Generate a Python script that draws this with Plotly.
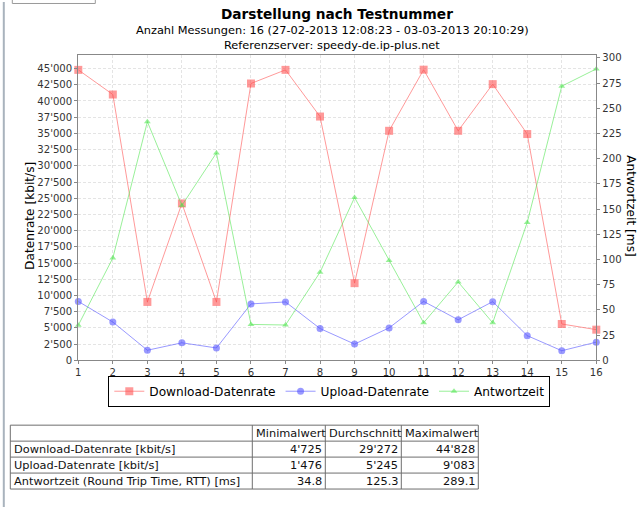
import plotly.graph_objects as go

# ---------------- data ----------------
tests = list(range(1, 17))
download = [44800, 41000, 9000, 24200, 9000, 42700, 44800, 37600, 11900,
            35400, 44828, 35400, 42600, 34900, 5600, 4725]
upload = [9083, 5900, 1550, 2700, 1900, 8700, 9000, 4900, 2500,
          5000, 9083, 6250, 9050, 3800, 1476, 2800]
rtt = [34.8, 101.5, 236.7, 153.6, 205.7, 35.6, 35.0, 87.3, 161.5,
       98.9, 37.2, 77.7, 37.2, 136.8, 272.0, 289.1]

series_names = ["Download-Datenrate", "Upload-Datenrate", "Antwortzeit"]

title = "Darstellung nach Testnummer"
subtitle1 = "Anzahl Messungen: 16 (27-02-2013 12:08:23 - 03-03-2013 20:10:29)"
subtitle2 = "Referenzserver: speedy-de.ip-plus.net"
ylabel_left = "Datenrate [kbit/s]"
ylabel_right = "Antwortzeit [ms]"

left_ticks = list(range(0, 45001, 2500))
right_ticks = list(range(0, 301, 25))

table_header = ["", "Minimalwert", "Durchschnitt", "Maximalwert"]
table_rows = ["Download-Datenrate [kbit/s]", "Upload-Datenrate [kbit/s]",
              "Antwortzeit (Round Trip Time, RTT) [ms]"]
table_min = ["4'725", "1'476", "34.8"]
table_avg = ["29'272", "5'245", "125.3"]
table_max = ["44'828", "9'083", "289.1"]

# ---------------- layout helpers (reference pixels -> paper) ----------------
RW, RH = 642, 507          # reference canvas
K = 1 / 0.986              # compensation for the capture scale
DX = 1.7                   # small horizontal capture offset
W, H = round(RW * K), round(RH * K)
def px(x):
    return (x - DX) / RW
def py(y):
    return 1 - y / RH
def fs(s):
    return s * K

FONT = "DejaVu Sans"
RED = "rgba(255,85,85,0.6)"
BLUE = "rgba(85,85,255,0.6)"
GREEN = "rgba(85,230,85,0.6)"

fig = go.Figure()
fig.add_trace(go.Scatter(x=tests, y=download, name=series_names[0], mode="lines+markers",
                         line=dict(color=RED, width=1),
                         marker=dict(symbol="square", size=8, color=RED),
                         cliponaxis=False, yaxis="y"))
fig.add_trace(go.Scatter(x=tests, y=upload, name=series_names[1], mode="lines+markers",
                         line=dict(color=BLUE, width=1),
                         marker=dict(symbol="circle", size=7, color=BLUE),
                         cliponaxis=False, yaxis="y"))
fig.add_trace(go.Scatter(x=tests, y=rtt, name=series_names[2], mode="lines+markers",
                         line=dict(color=GREEN, width=1),
                         marker=dict(symbol="triangle-up", size=6, color=GREEN),
                         cliponaxis=False, yaxis="y2"))

axis_common = dict(showline=True, linecolor="#888888", linewidth=1,
                   ticks="outside", ticklen=3, tickcolor="#888888",
                   showgrid=True, gridcolor="#e4e4e4", griddash="3px,2px", gridwidth=1,
                   tickfont=dict(family=FONT, size=fs(10), color="#333333"),
                   zeroline=False)

fig.update_layout(
    width=W, height=H,
    margin=dict(l=0, r=0, t=0, b=0),
    paper_bgcolor="white", plot_bgcolor="white",
    separators=".'",
    showlegend=True,
    font=dict(family=FONT, color="#000000"),
    xaxis=dict(domain=[px(77), px(595)], range=[1, 16], tickvals=tests,
               mirror=True, **axis_common),
    yaxis=dict(domain=[py(359), py(53)], range=[0, 47110], tickvals=left_ticks,
               tickformat=",d", **axis_common),
    yaxis2=dict(overlaying="y", side="right", anchor="x", range=[0, 303],
                tickvals=right_ticks, **{k: v for k, v in axis_common.items() if k != "showgrid"},
                showgrid=False),
    legend=dict(orientation="h", x=px(328), y=py(390), xanchor="center", yanchor="middle",
                bordercolor="#000000", borderwidth=1, bgcolor="white",
                font=dict(family=FONT, size=fs(12), color="#000000"),
                itemwidth=30, tracegroupgap=0),
)

ann = []
ann.append(dict(text="<b>" + title + "</b>", x=px(336), y=py(12), xref="paper", yref="paper",
                showarrow=False, xanchor="center", yanchor="middle",
                font=dict(family=FONT, size=fs(13.5), color="#000000")))
ann.append(dict(text=subtitle1, x=px(331), y=py(28), xref="paper", yref="paper",
                showarrow=False, xanchor="center", yanchor="middle",
                font=dict(family=FONT, size=fs(11.2), color="#000000")))
ann.append(dict(text=subtitle2, x=px(331), y=py(43), xref="paper", yref="paper",
                showarrow=False, xanchor="center", yanchor="middle",
                font=dict(family=FONT, size=fs(11.2), color="#000000")))
ann.append(dict(text=ylabel_left, x=px(28), y=py(214), xref="paper", yref="paper",
                showarrow=False, textangle=-90, xanchor="center", yanchor="middle",
                font=dict(family=FONT, size=fs(12), color="#000000")))
ann.append(dict(text=ylabel_right, x=px(630), y=py(204), xref="paper", yref="paper",
                showarrow=False, textangle=90, xanchor="center", yanchor="middle",
                font=dict(family=FONT, size=fs(12), color="#000000")))

shapes = []
# page decorations
shapes.append(dict(type="line", xref="paper", yref="paper", x0=px(2.5), x1=px(2.5), y0=0, y1=1,
                   line=dict(color="#a9b3bd", width=2)))
shapes.append(dict(type="rect", xref="paper", yref="paper", x0=px(11), x1=px(94),
                   y0=py(1.5), y1=py(-10), line=dict(color="#9a9a9a", width=1)))

# summary table
TABLE_LEFT, TABLE_TOP, ROW_H = 9, 424, 16
COL_W = [242, 73, 76, 77]
col_edges = [TABLE_LEFT]
for w in COL_W:
    col_edges.append(col_edges[-1] + w)
n_rows = len(table_rows) + 1
row_edges = [TABLE_TOP + i * ROW_H for i in range(n_rows + 1)]
LC = "#6e6e6e"
for xe in col_edges:
    shapes.append(dict(type="line", xref="paper", yref="paper", x0=px(xe), x1=px(xe),
                       y0=py(row_edges[0]), y1=py(row_edges[-1]), line=dict(color=LC, width=1)))
for ye in row_edges:
    shapes.append(dict(type="line", xref="paper", yref="paper", x0=px(col_edges[0]), x1=px(col_edges[-1]),
                       y0=py(ye), y1=py(ye), line=dict(color=LC, width=1)))

TFONT = dict(family=FONT, size=fs(11.2), color="#111111")
def cell(text, col, row, align):
    yc = (row_edges[row] + row_edges[row + 1]) / 2
    if align == "left":
        xx, xa = col_edges[col] + 1.5, "left"
    else:
        xx, xa = col_edges[col + 1] - 1.5, "right"
    return dict(text=text, x=px(xx), y=py(yc), xref="paper", yref="paper", showarrow=False,
                xanchor=xa, yanchor="middle", font=TFONT)

for c, h in enumerate(table_header):
    if h:
        ann.append(cell(h, c, 0, "left"))
columns = [table_min, table_avg, table_max]
for r, label in enumerate(table_rows):
    ann.append(cell(label, 0, r + 1, "left"))
    for c, col in enumerate(columns):
        ann.append(cell(col[r], c + 1, r + 1, "right"))

fig.update_layout(annotations=ann, shapes=shapes)
fig.write_html("out.html", config={"displayModeBar": False},
               post_script="document.body.style.margin='0';document.body.style.overflow='hidden';")
